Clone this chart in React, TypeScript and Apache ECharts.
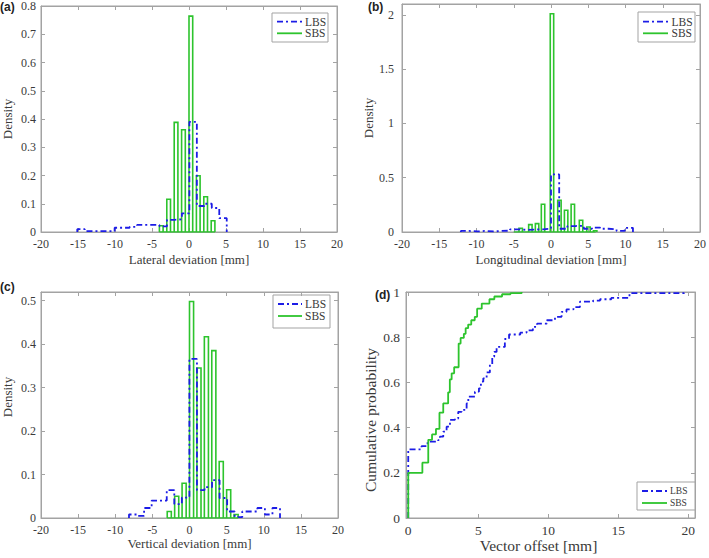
import React, { useEffect, useRef } from "react";
import * as echarts from "echarts";

const BLUE = "#1c1ce6";
const GREEN = "#2dc42d";
const BOX = "#a3a3a3";
const TXT = "#3a3a3a";
const SERIF = "Liberation Serif";
const SANS = "Liberation Sans";
const DASHDOT = [6, 3, 2, 3];

// ---------- tick labels ----------
const xTicksDev = [-20, -15, -10, -5, 0, 5, 10, 15, 20];
const yTicksA = [0, 0.1, 0.2, 0.3, 0.4, 0.5, 0.6, 0.7, 0.8];
const yTicksB = [0, 0.5, 1, 1.5, 2];
const yTicksC = [0, 0.1, 0.2, 0.3, 0.4, 0.5];
const xTicksD = [0, 5, 10, 15, 20];
const yTicksD = [0, 0.2, 0.4, 0.6, 0.8, 1];

// ---------- (a) Lateral deviation ----------
const lbsAStart = -15.1;
const lbsAWidth = 1.01;
const lbsAHeights = [0.01, 0.003, 0.003, 0.003, 0.003, 0.015, 0.015, 0.018, 0.025, 0.025, 0.025, 0.02, 0.043, 0.045, 0.066, 0.39, 0.092, 0.1, 0.085, 0.049];
const sbsAStarts = [-4, -3, -2, -1, 0, 1, 2, 3];
const sbsAHeights = [0.022, 0.116, 0.388, 0.362, 0.764, 0.199, 0.125, 0.04];
const sbsAWidth = 0.5;
const sbsABase = [-4, 3.5];

// ---------- (b) Longitudinal deviation ----------
const lbsBStart = -12.1;
const lbsBWidth = 1.1;
const lbsBHeights = [0.01, 0.005, 0.01, 0.005, 0.01, 0.012, 0.025, 0.02, 0.022, 0.025, 0.03, 0.53, 0.03, 0.055, 0.058, 0.03, 0.04, 0.03, 0.025, 0.01, 0.038];
const sbsBStarts = [-4.3, -3.0, -2.1, -1.3, -0.1, 0.9, 1.8, 2.7, 3.8, 4.8, 5.7];
const sbsBHeights = [0.034, 0.068, 0.077, 0.256, 2.01, 0.293, 0.2, 0.256, 0.108, 0.046, 0.012];
const sbsBWidth = 0.46;
const sbsBBase = [-5, 6];

// ---------- (c) Vertical deviation ----------
const lbsCStart = -8.15;
const lbsCWidth = 1.017;
const lbsCHeights = [0.008, 0.005, 0.023, 0.04, 0.04, 0.064, 0.032, 0.047, 0.366, 0.064, 0.071, 0.087, 0.046, 0.015, 0.002, 0.015, 0.015, 0.023, 0.008, 0.023];
const sbsCStarts = [-3, -2, -1, 0, 1, 2, 3, 4, 5, 6];
const sbsCHeights = [0.015, 0.05, 0.08, 0.498, 0.345, 0.417, 0.385, 0.13, 0.065, 0.008];
const sbsCWidth = 0.55;
const sbsCBase = [-3, 6.55];

// ---------- (d) Vector offset CDF ----------
const lbsCdf = [
  [0, 0], [0, 0.304], [0.95, 0.318], [1.38, 0.338], [2.14, 0.345], [2.26, 0.36], [2.5, 0.382],
  [2.74, 0.404], [2.98, 0.434], [3.33, 0.44], [3.57, 0.47], [3.81, 0.478], [4.17, 0.507],
  [4.29, 0.537], [4.76, 0.559], [5.05, 0.574], [5.19, 0.603], [5.36, 0.618], [5.6, 0.644],
  [5.83, 0.68], [6.0, 0.713], [6.14, 0.735], [6.31, 0.757], [6.9, 0.792], [7.2, 0.812],
  [8.0, 0.82], [8.45, 0.83], [8.9, 0.846], [9.2, 0.86], [9.9, 0.875], [10.48, 0.89],
  [10.95, 0.912], [11.3, 0.923], [11.8, 0.933], [12.26, 0.957], [13.2, 0.962], [13.7, 0.968],
  [14.5, 0.974], [15.8, 0.995], [19.7, 1.0],
];
const sbsCdf = [
  [0, 0], [0, 0.2], [1.01, 0.245], [1.43, 0.346], [1.7, 0.37], [1.98, 0.394], [2.23, 0.466],
  [2.5, 0.507], [2.85, 0.556], [2.97, 0.613], [3.1, 0.64], [3.28, 0.667], [3.6, 0.772],
  [3.74, 0.797], [3.97, 0.815], [4.1, 0.84], [4.28, 0.856], [4.5, 0.875], [4.75, 0.89],
  [4.92, 0.926], [5.25, 0.949], [5.8, 0.968], [6.15, 0.98], [6.7, 0.99], [7.3, 0.995], [8.1, 1.0],
];

function stairs(start: number, width: number, heights: number[]) {
  const pts: number[][] = [[start, 0]];
  heights.forEach((h, i) => {
    const x0 = start + i * width;
    pts.push([x0, h], [x0 + width, h]);
  });
  pts.push([start + heights.length * width, 0]);
  return pts;
}

function lbsSeries(idx: number, data: number[][], step?: string) {
  return {
    type: "line",
    name: "LBS",
    xAxisIndex: idx * 2,
    yAxisIndex: idx * 2,
    data,
    step: step || false,
    symbol: "none",
    showSymbol: false,
    silent: true,
    lineStyle: { color: BLUE, width: 1.8, type: DASHDOT },
  };
}

function sbsBars(idx: number, starts: number[], heights: number[], width: number) {
  return {
    type: "custom",
    name: "SBS",
    xAxisIndex: idx * 2,
    yAxisIndex: idx * 2,
    silent: true,
    data: starts.map((s, i) => [s, s + width, heights[i]]),
    encode: { x: [0, 1], y: 2 },
    renderItem: (params: any, api: any) => {
      const s = api.value(0);
      const e = api.value(1);
      const h = api.value(2);
      const pts = [api.coord([s, 0]), api.coord([s, h]), api.coord([e, h]), api.coord([e, 0])];
      return {
        type: "polyline",
        shape: { points: pts },
        style: { stroke: GREEN, lineWidth: 1.6, fill: "none" },
      };
    },
  };
}

function baseline(idx: number, range: number[]) {
  return {
    type: "line",
    xAxisIndex: idx * 2,
    yAxisIndex: idx * 2,
    data: [[range[0], 0], [range[1], 0]],
    symbol: "none",
    silent: true,
    lineStyle: { color: GREEN, width: 1.6 },
  };
}

function axisLabelStyle(ticks: number[], lfs: number, margin: number) {
  return {
    customValues: ticks,
    color: TXT,
    fontFamily: SERIF,
    fontSize: lfs,
    margin,
  };
}

function xAxes(g: number, min: number, max: number, ticks: number[], name: string, fs: number, lfs: number, gap: number, lmargin: number, pad?: number[]) {
  const common = {
    type: "value",
    gridIndex: g,
    min,
    max,
    splitLine: { show: false },
    axisLine: { show: true, onZero: false, lineStyle: { color: BOX, width: 1 } },
    axisTick: { show: true, inside: true, length: 4, customValues: ticks, lineStyle: { color: BOX } },
  };
  return [
    {
      ...common,
      position: "bottom",
      axisLabel: axisLabelStyle(ticks, lfs, lmargin),
      name,
      nameLocation: "middle",
      nameGap: gap,
      nameTextStyle: { fontFamily: SERIF, fontSize: fs, color: TXT, padding: pad || 0 },
    },
    { ...common, position: "top", axisLabel: { show: false } },
  ];
}

function yAxes(g: number, min: number, max: number, ticks: number[], name: string, fs: number, lfs: number, gap: number, lmargin: number, pad?: number[]) {
  const common = {
    type: "value",
    gridIndex: g,
    min,
    max,
    splitLine: { show: false },
    axisLine: { show: true, onZero: false, lineStyle: { color: BOX, width: 1 } },
    axisTick: { show: true, inside: true, length: 4, customValues: ticks, lineStyle: { color: BOX } },
  };
  return [
    {
      ...common,
      position: "left",
      axisLabel: axisLabelStyle(ticks, lfs, lmargin),
      name,
      nameLocation: "middle",
      nameGap: gap,
      nameTextStyle: { fontFamily: SERIF, fontSize: fs, color: TXT, padding: pad || 0 },
    },
    { ...common, position: "right", axisLabel: { show: false } },
  ];
}

function legend(x: number, y: number, w: number, h: number, r1: number, r2: number, lx0: number, lx1: number, tx: number, fs: number) {
  return {
    type: "group",
    z: 100,
    children: [
      { type: "rect", shape: { x, y, width: w, height: h }, style: { fill: "#ffffff", stroke: BOX, lineWidth: 1 } },
      { type: "line", shape: { x1: lx0, y1: r1, x2: lx1, y2: r1 }, style: { stroke: BLUE, lineWidth: 1.8, lineDash: DASHDOT } },
      { type: "line", shape: { x1: lx0, y1: r2, x2: lx1, y2: r2 }, style: { stroke: GREEN, lineWidth: 1.8 } },
      { type: "text", x: tx, y: r1, style: { text: "LBS", fontFamily: SERIF, fontSize: fs, fill: TXT, align: "left", verticalAlign: "middle" } },
      { type: "text", x: tx, y: r2, style: { text: "SBS", fontFamily: SERIF, fontSize: fs, fill: TXT, align: "left", verticalAlign: "middle" } },
    ],
  };
}

function panelLabel(text: string, x: number, y: number) {
  return {
    type: "text",
    z: 100,
    x,
    y,
    style: { text, fontFamily: SANS, fontWeight: "bold", fontSize: 12, fill: "#222", align: "left", verticalAlign: "middle" },
  };
}

export default function App() {
  const ref = useRef<HTMLDivElement>(null);
  useEffect(() => {
    if (!ref.current) return;
    const chart = echarts.init(ref.current, undefined, { renderer: "svg" });
    const gridStyle = { show: true, borderColor: BOX, borderWidth: 1, backgroundColor: "transparent" };
    const option: any = {
      animation: false,
      backgroundColor: "#ffffff",
      textStyle: { fontFamily: SERIF },
      grid: [
        { ...gridStyle, left: 40, top: 4, width: 297, height: 228 },
        { ...gridStyle, left: 402, top: 4, width: 300, height: 228 },
        { ...gridStyle, left: 40, top: 292, width: 298, height: 226 },
        { ...gridStyle, left: 406, top: 292, width: 289, height: 226 },
      ],
      xAxis: [
        ...xAxes(0, -20, 20, xTicksDev, "Lateral deviation [mm]", 13, 12, 21, 6),
        ...xAxes(1, -20, 20, xTicksDev, "Longitudinal deviation [mm]", 13, 12, 21, 6),
        ...xAxes(2, -20, 20, xTicksDev, "Vertical deviation [mm]", 13, 12, 19, 6),
        ...xAxes(3, -0.16, 20.48, xTicksD, "Vector offset [mm]", 15.5, 13.5, 18, 5, [0, 24, 0, 0]),
      ],
      yAxis: [
        ...yAxes(0, 0, 0.8, yTicksA, "Density", 13, 12, 27, 5),
        ...yAxes(1, 0, 2.1, yTicksB, "Density", 13, 12, 19, 8),
        ...yAxes(2, 0, 0.52, yTicksC, "Density", 13, 12, 27, 5, [0, 0, 0, 16]),
        ...yAxes(3, 0, 1, yTicksD, "Cumulative probability", 15.5, 13.5, 28, 6, [0, 30, 0, 0]),
      ],
      series: [
        lbsSeries(0, stairs(lbsAStart, lbsAWidth, lbsAHeights)),
        baseline(0, sbsABase),
        sbsBars(0, sbsAStarts, sbsAHeights, sbsAWidth),
        lbsSeries(1, stairs(lbsBStart, lbsBWidth, lbsBHeights)),
        baseline(1, sbsBBase),
        sbsBars(1, sbsBStarts, sbsBHeights, sbsBWidth),
        lbsSeries(2, stairs(lbsCStart, lbsCWidth, lbsCHeights)),
        baseline(2, sbsCBase),
        sbsBars(2, sbsCStarts, sbsCHeights, sbsCWidth),
        lbsSeries(3, lbsCdf, "end"),
        {
          type: "line",
          name: "SBS",
          xAxisIndex: 6,
          yAxisIndex: 6,
          data: sbsCdf,
          step: "end",
          symbol: "none",
          silent: true,
          lineStyle: { color: GREEN, width: 1.8 },
        },
      ],
      graphic: [
        panelLabel("(a)", 0, 7),
        panelLabel("(b)", 368, 7),
        panelLabel("(c)", 0, 287),
        panelLabel("(d)", 375, 295),
        legend(272, 13, 56, 29, 21.7, 33.3, 277, 302, 305, 11.5),
        legend(638, 12, 57, 30, 21.7, 33.3, 643, 668, 671.5, 11.5),
        legend(273, 295, 57, 33, 304, 316, 278, 302, 305, 11.5),
        legend(637, 482, 58, 28, 491, 503, 642, 667, 670, 9.5),
      ],
    };
    chart.setOption(option);
    return () => chart.dispose();
  }, []);
  return <div ref={ref} style={{ position: "absolute", left: 0, top: 0, width: 709, height: 558 }} />;
}
